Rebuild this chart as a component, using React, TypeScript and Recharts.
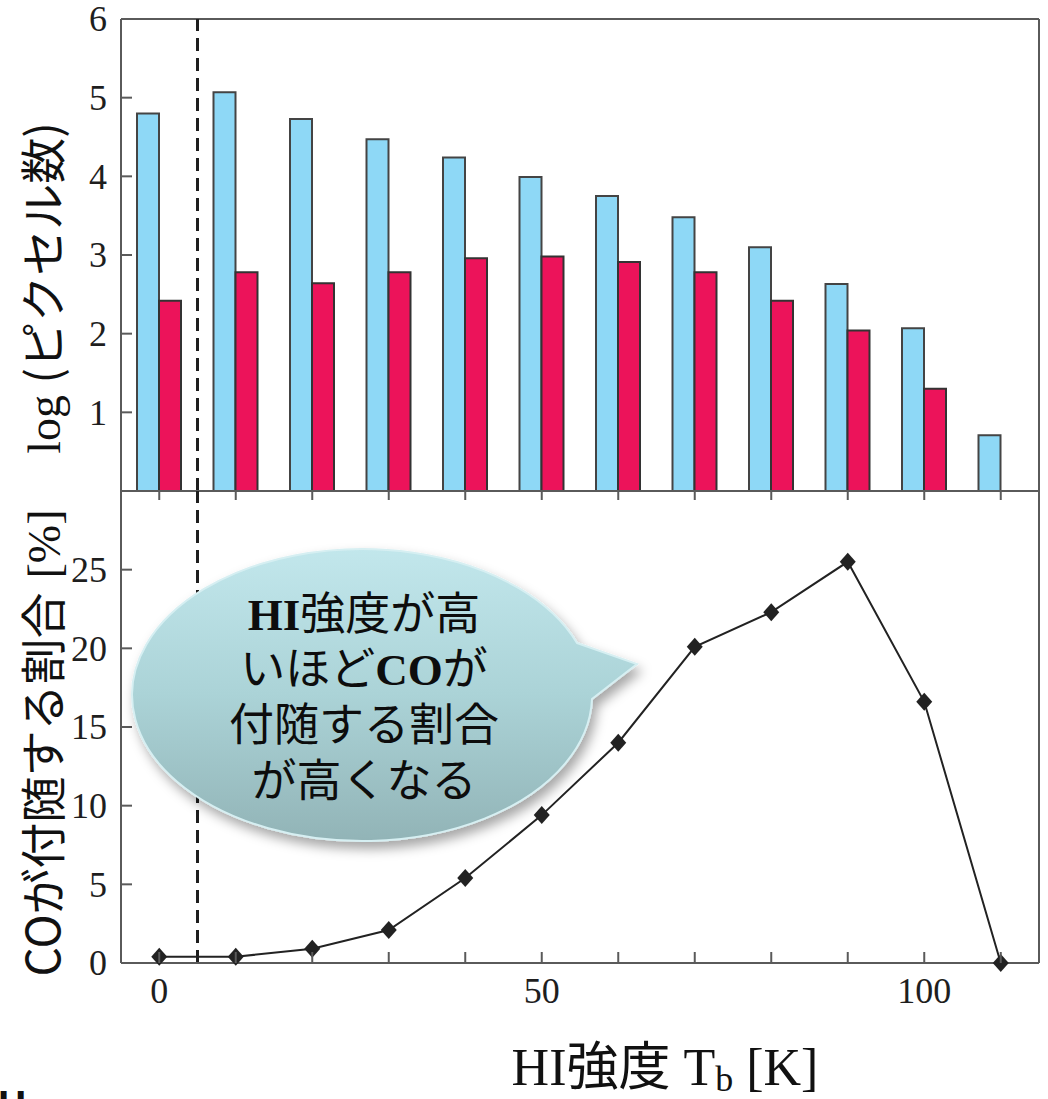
import React from "react";
import { ComposedChart, Bar, Line, XAxis, YAxis, ReferenceLine } from "recharts";

// HI brightness bins (K)
const temps = [0, 10, 20, 30, 40, 50, 60, 70, 80, 90, 100, 110];
// log of pixel counts: all HI pixels / pixels with CO
const logAll = [4.8, 5.07, 4.73, 4.47, 4.24, 3.99, 3.75, 3.48, 3.1, 2.63, 2.07, 0.71];
const logCO = [2.42, 2.78, 2.64, 2.78, 2.96, 2.98, 2.91, 2.78, 2.42, 2.04, 1.3, null];
// fraction of pixels with CO (%)
const coFraction = [0.4, 0.4, 0.9, 2.1, 5.4, 9.4, 14.0, 20.1, 22.3, 25.5, 16.6, 0];

const logTicks = [0, 1, 2, 3, 4, 5, 6];
const fracTicks = [0, 5, 10, 15, 20, 25];
const tempLabels = [0, 50, 100];
const cutoffK = 5;

const W = 1048;
const H = 1099;
const axisGray = "#5a5a5a";
const serif = "'Liberation Serif', 'Times New Roman', serif";
const jp = "'Noto Sans CJK JP', 'Noto Sans', sans-serif";

const barRows = temps.map((t, i) => ({ t, all: logAll[i], co: logCO[i] }));
const lineRows = temps.map((t, i) => ({ t, frac: coFraction[i] }));

const LeftTick = ({ x, y, payload, hideZero }: any) => (
  <g>
    <line x1={x} x2={x + 11} y1={y} y2={y} stroke={axisGray} strokeWidth={2} />
    {!(hideZero && payload.value === 0) && (
      <text x={x - 14} y={y} dy="0.34em" textAnchor="end" fontFamily={serif} fontSize={36} fill="#1e1e1e">
        {payload.value}
      </text>
    )}
  </g>
);

const RightTick = ({ x, y }: any) => (
  <line x1={x} x2={x - 11} y1={y} y2={y} stroke={axisGray} strokeWidth={2} />
);

const DownTick = ({ x, y }: any) => (
  <line x1={x} x2={x} y1={y} y2={y + 9} stroke={axisGray} strokeWidth={2} />
);

const BottomTick = ({ x, y, payload }: any) => (
  <g>
    <line x1={x} x2={x} y1={y} y2={y - 11} stroke={axisGray} strokeWidth={2} />
    {tempLabels.includes(payload.value) && (
      <text x={x} y={y + 40} textAnchor="middle" fontFamily={serif} fontSize={36} fill="#1e1e1e">
        {payload.value}
      </text>
    )}
  </g>
);

const Diamond = ({ cx, cy }: any) =>
  cx == null ? null : (
    <path d={`M${cx} ${cy - 9}L${cx + 8} ${cy}L${cx} ${cy + 9}L${cx - 8} ${cy}Z`} fill="#222" />
  );

function CountsPanel() {
  return (
    <ComposedChart
      width={W}
      height={H}
      data={barRows}
      margin={{ top: 19, right: 8, bottom: H - 491 - 1, left: 61 }}
      barGap={0}
      barSize={22}
    >
      <XAxis
        xAxisId="cat"
        dataKey="t"
        type="category"
        height={1}
        interval={0}
        tickSize={0}
        tickMargin={0}
        tickLine={false}
        axisLine={{ stroke: axisGray, strokeWidth: 2 }}
        tick={<DownTick />}
      />
      <XAxis xAxisId="num" dataKey="t" type="number" domain={[-5, 115]} hide />
      <YAxis
        yAxisId="left"
        domain={[0, 6]}
        ticks={logTicks}
        width={60}
        interval={0}
        tickSize={0}
        tickMargin={0}
        tickLine={false}
        axisLine={{ stroke: axisGray, strokeWidth: 2 }}
        tick={<LeftTick hideZero />}
      />
      <YAxis
        yAxisId="right"
        orientation="right"
        domain={[0, 6]}
        ticks={logTicks}
        width={1}
        interval={0}
        tickSize={0}
        tickMargin={0}
        tickLine={false}
        axisLine={{ stroke: axisGray, strokeWidth: 2 }}
        tick={<RightTick />}
      />
      <ReferenceLine xAxisId="cat" yAxisId="left" y={6} stroke={axisGray} strokeWidth={2} />
      <Bar xAxisId="cat" yAxisId="left" dataKey="all" fill="#8ed8f6" stroke="#444" strokeWidth={2} isAnimationActive={false} />
      <Bar xAxisId="cat" yAxisId="left" dataKey="co" fill="#ec135a" stroke="#333" strokeWidth={2} isAnimationActive={false} />
      <ReferenceLine
        xAxisId="num"
        yAxisId="left"
        x={cutoffK}
        stroke="#1e1e1e"
        strokeWidth={3}
        strokeDasharray="13 7"
        strokeOpacity={1}
      />
    </ComposedChart>
  );
}

function FractionPanel() {
  return (
    <ComposedChart width={W} height={H} data={lineRows} margin={{ top: 491, right: 8, bottom: H - 963 - 1, left: 61 }}>
      <XAxis
        dataKey="t"
        type="number"
        domain={[-5, 115]}
        ticks={temps}
        height={1}
        interval={0}
        tickSize={0}
        tickMargin={0}
        tickLine={false}
        axisLine={{ stroke: axisGray, strokeWidth: 2 }}
        tick={<BottomTick />}
      />
      <YAxis
        yAxisId="left"
        domain={[0, 30]}
        ticks={fracTicks}
        width={60}
        interval={0}
        tickSize={0}
        tickMargin={0}
        tickLine={false}
        axisLine={{ stroke: axisGray, strokeWidth: 2 }}
        tick={<LeftTick />}
      />
      <YAxis
        yAxisId="right"
        orientation="right"
        domain={[0, 30]}
        ticks={fracTicks}
        width={1}
        interval={0}
        tickSize={0}
        tickMargin={0}
        tickLine={false}
        axisLine={{ stroke: axisGray, strokeWidth: 2 }}
        tick={<RightTick />}
      />
      <ReferenceLine
        yAxisId="left"
        x={cutoffK}
        stroke="#1e1e1e"
        strokeWidth={3}
        strokeDasharray="13 7"
        strokeOpacity={1}
      />
      <Line
        yAxisId="left"
        dataKey="frac"
        type="linear"
        stroke="#222"
        strokeWidth={2}
        dot={<Diamond />}
        activeDot={false}
        isAnimationActive={false}
      />
    </ComposedChart>
  );
}

// Axis titles and the speech-bubble note drawn above both panels
function Overlay() {
  return (
    <svg width={W} height={H} style={{ position: "absolute", left: 0, top: 0 }}>
      <defs>
        <linearGradient id="bubbleFill" x1="0" y1="548" x2="0" y2="840" gradientUnits="userSpaceOnUse">
          <stop offset="0" stopColor="#c2e7ec" />
          <stop offset="0.5" stopColor="#abd3d7" />
          <stop offset="1" stopColor="#92b4b7" />
        </linearGradient>
        <filter id="bubbleShadow" x="-10%" y="-10%" width="130%" height="140%">
          <feDropShadow dx="4" dy="7" stdDeviation="6" floodColor="#000" floodOpacity="0.35" />
        </filter>
      </defs>
      <g filter="url(#bubbleShadow)">
        <path
          d="M577 643 L637 664 L592 699 A230 146 0 1 1 577 643 Z"
          fill="url(#bubbleFill)"
          stroke="#d6eff2"
          strokeWidth={2}
        />
      </g>
      <g fontSize={45} fontFamily={jp} fill="#0d0d0d" textAnchor="middle">
        <text x={364} y={630}>
          <tspan fontFamily={serif} fontWeight="bold">HI</tspan>強度が高
        </text>
        <text x={364} y={685}>
          いほど<tspan fontFamily={serif} fontWeight="bold">CO</tspan>が
        </text>
        <text x={364} y={741}>付随する割合</text>
        <text x={364} y={797}>が高くなる</text>
      </g>

      <text transform="rotate(-90 43 288)" x={43} y={288} dy="0.36em" textAnchor="middle" fontSize={46} fill="#111">
        <tspan fontFamily={serif}>log </tspan>
        <tspan fontFamily={jp}>(ピクセル数)</tspan>
      </text>
      <text transform="rotate(-90 43 743)" x={43} y={743} dy="0.36em" textAnchor="middle" fontSize={46} fill="#111">
        <tspan fontFamily={jp}>COが付随する割合</tspan>
        <tspan fontFamily={serif} dx={14}>[%]</tspan>
      </text>

      <text x={665} y={1085} textAnchor="middle" fontSize={52} fill="#111" fontFamily={serif}>
        HI<tspan fontFamily={jp}>強度</tspan> T<tspan fontSize={36} dy={6}>b</tspan>
        <tspan dy={-6}> [K]</tspan>
      </text>
      <text x={-3} y={1121} fontSize={40} fontWeight="bold" fontFamily={jp} fill="#111">H</text>
    </svg>
  );
}

export default function App() {
  return (
    <div style={{ position: "absolute", left: 0, top: 0, width: W, height: H, background: "#fff" }}>
      <div style={{ position: "absolute", left: 0, top: 0 }}>
        <CountsPanel />
      </div>
      <div style={{ position: "absolute", left: 0, top: 0 }}>
        <FractionPanel />
      </div>
      <Overlay />
    </div>
  );
}
